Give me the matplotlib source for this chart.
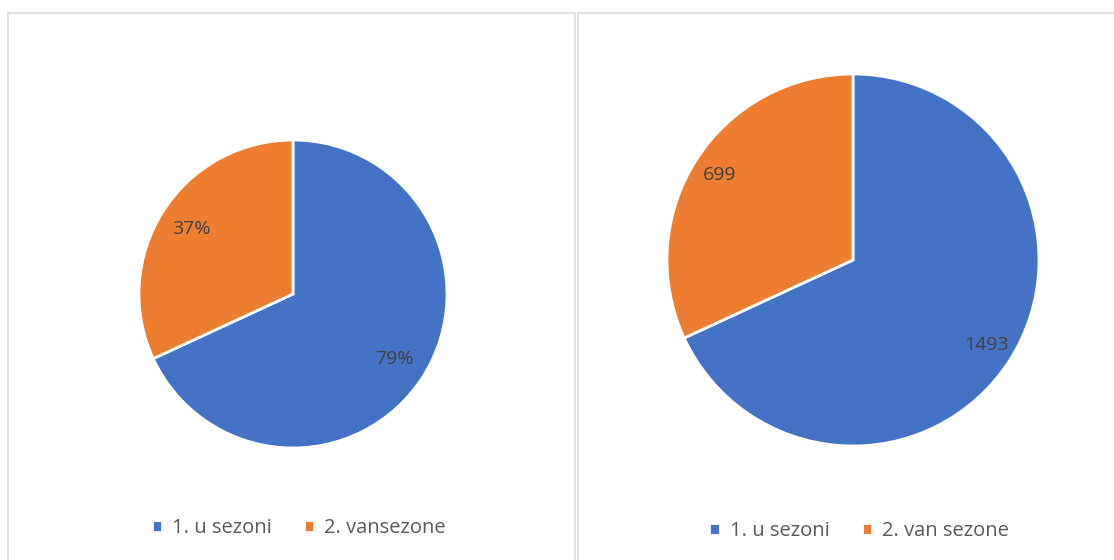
import matplotlib.pyplot as plt
from matplotlib.patches import Rectangle

categories_left = ['1. u sezoni', '2. vansezone']
categories_right = ['1. u sezoni', '2. van sezone']
values_left = [79, 37]
values_right = [1493, 699]
labels_left = ['79%', '37%']
labels_right = ['1493', '699']
colors = ['#4472C4', '#ED7D31']

plt.rcParams['font.family'] = ['Open Sans', 'DejaVu Sans']

W, H = 1114, 560
fig = plt.figure(figsize=(W / 100, H / 100), dpi=100)

# panel frames
for x0, x1 in [(8, 575), (578, 1120)]:
    fig.patches.append(Rectangle((x0 / W, -0.05), (x1 - x0) / W, (H - 13) / H + 0.05,
                                 transform=fig.transFigure, fill=False,
                                 edgecolor='#dcdcdc', linewidth=1.2))


def draw_pie(cx, cy, r, values, labels, cats, dist, leg_y, leg_x):
    ax = fig.add_axes([(cx - r) / W, (H - cy - r) / H, 2 * r / W, 2 * r / H])
    wedges, texts = ax.pie(values, colors=colors, startangle=90, counterclock=False,
                           labels=labels, labeldistance=dist,
                           wedgeprops=dict(edgecolor='white', linewidth=2),
                           textprops=dict(color='#404040', fontsize=14))
    for t in texts:
        t.set_horizontalalignment('center')
    ax.set_xlim(-1, 1)
    ax.set_ylim(-1, 1)
    ax.set_aspect('equal')
    ax.axis('off')
    fig.legend(wedges, cats, loc='center', bbox_to_anchor=(leg_x / W, 1 - leg_y / H),
               ncol=2, frameon=False, fontsize=14.5, labelcolor='#595959',
               handlelength=0.5, handleheight=0.5, handletextpad=0.5, columnspacing=1.6)


draw_pie(293, 294, 154, values_left, labels_left, categories_left, 0.78, 528, 299)
draw_pie(853, 260, 186, values_right, labels_right, categories_right, 0.85, 531, 859)

fig.savefig('out.png', dpi=100)
